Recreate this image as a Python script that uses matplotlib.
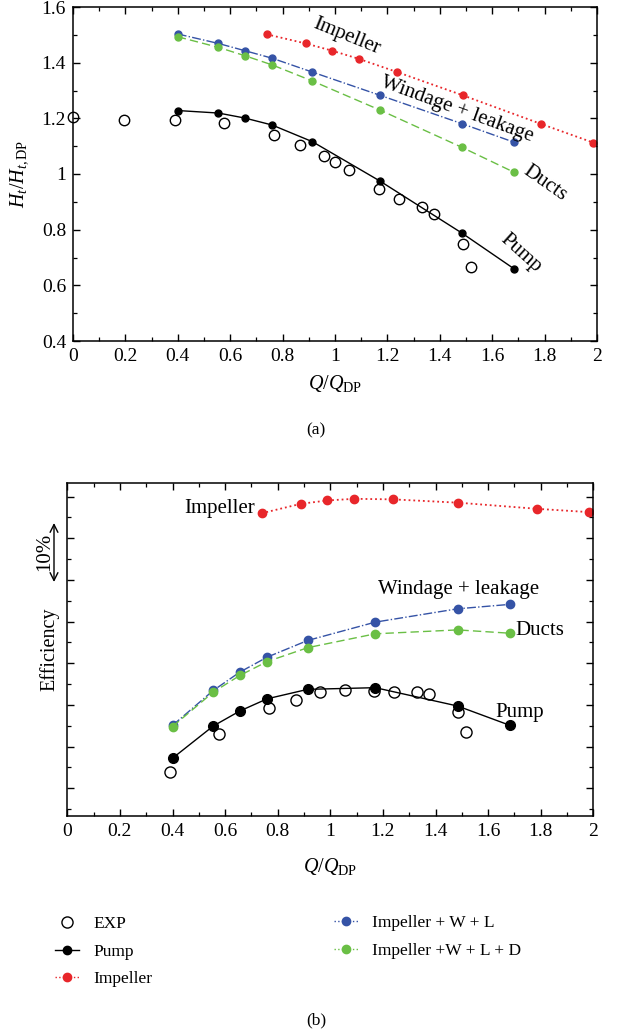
import matplotlib
matplotlib.use('Agg')
import matplotlib.pyplot as plt
from matplotlib.ticker import MultipleLocator, FormatStrFormatter, NullFormatter
from matplotlib.lines import Line2D

plt.rcParams['font.family'] = ['Liberation Serif', 'DejaVu Serif']
plt.rcParams['mathtext.fontset'] = 'custom'
plt.rcParams['mathtext.rm'] = 'Liberation Serif'
plt.rcParams['mathtext.it'] = 'Liberation Serif:italic'
plt.rcParams['mathtext.bf'] = 'Liberation Serif:bold'

# ---------------- data ----------------
q_calc = [0.400, 0.555, 0.656, 0.760, 0.914, 1.171, 1.484, 1.684]
q_imp = [0.739, 0.888, 0.989, 1.090, 1.238, 1.487, 1.786, 1.985]

# (a) head
head_imp = [1.502, 1.469, 1.443, 1.414, 1.366, 1.283, 1.180, 1.113]
head_wl = [1.503, 1.469, 1.443, 1.416, 1.366, 1.283, 1.181, 1.114]
head_ducts = [1.493, 1.455, 1.425, 1.392, 1.334, 1.230, 1.096, 1.006]
head_pump = [1.228, 1.219, 1.201, 1.176, 1.116, 0.975, 0.788, 0.659]
q_exp_a = [0.0, 0.195, 0.389, 0.576, 0.767, 0.866, 0.959, 1.000, 1.055,
           1.168, 1.244, 1.333, 1.379, 1.488, 1.519]
head_exp = [1.204, 1.194, 1.195, 1.184, 1.139, 1.103, 1.063, 1.042, 1.013,
            0.947, 0.909, 0.881, 0.855, 0.748, 0.666]

# (b) efficiency (%)
eff_imp = [94.5, 96.2, 96.8, 97.1, 97.0, 96.4, 95.3, 94.7]
eff_wl = [56.3, 62.6, 65.9, 68.6, 71.6, 74.9, 77.3, 78.1]
eff_ducts = [56.1, 62.3, 65.3, 67.8, 70.3, 72.8, 73.5, 72.9]
eff_pump = [50.4, 56.2, 58.9, 61.1, 62.8, 63.1, 59.8, 56.3]
q_exp_b = [0.389, 0.575, 0.768, 0.868, 0.959, 1.054, 1.166, 1.241, 1.331,
           1.377, 1.484, 1.516]
eff_exp = [47.9, 54.7, 59.4, 60.8, 62.3, 62.6, 62.5, 62.3, 62.3, 62.0,
           58.7, 55.2]

x_ticks = [0, 0.2, 0.4, 0.6, 0.8, 1, 1.2, 1.4, 1.6, 1.8, 2]
y_ticks_a = [0.4, 0.6, 0.8, 1, 1.2, 1.4, 1.6]

RED = '#e8262a'
BLUE = '#3553a6'
GREEN = '#6abf45'

W, H = 631, 1036
fig = plt.figure(figsize=(W / 100, H / 100), dpi=100)

def axes_px(l, t, r, b):
    return fig.add_axes([l / W, 1 - b / H, (r - l) / W, (b - t) / H])

ax1 = axes_px(73, 7, 597, 341)
ax2 = axes_px(67.3, 482.7, 593.3, 816)

FS_TICK = 14
FS_ANN = 15
FS_LAB = 14.5
FS_LEG = 12.5

def style(ax):
    for s in ax.spines.values():
        s.set_linewidth(1.1)
    ax.tick_params(which='both', direction='in', top=True, right=True,
                   labelsize=FS_TICK, pad=5)
    ax.tick_params(which='major', length=5, width=1.0)
    ax.tick_params(which='minor', length=3, width=0.9)
    ax.set_xlim(0, 2)
    ax.set_xticks(x_ticks)
    ax.xaxis.set_minor_locator(MultipleLocator(0.1))
    ax.xaxis.set_major_formatter(FormatStrFormatter('%g'))

# ---------------- (a) ----------------
style(ax1)
ax1.set_ylim(0.4, 1.6)
ax1.set_yticks(y_ticks_a)
ax1.yaxis.set_minor_locator(MultipleLocator(0.1))
ax1.yaxis.set_major_formatter(FormatStrFormatter('%g'))

ax1.plot(q_imp, head_imp, ':', color=RED, lw=1.3, marker='o', ms=5, mec=RED, mfc=RED)
ax1.plot(q_calc, head_wl, '-.', color=BLUE, lw=1.0, marker='o', ms=5, mec=BLUE, mfc=BLUE)
ax1.plot(q_calc, head_ducts, '--', color=GREEN, lw=1.0, dashes=(6, 3), marker='o', ms=5,
         mec=GREEN, mfc=GREEN)
ax1.plot(q_calc, head_pump, '-', color='black', lw=1.0, marker='o', ms=5, mec='black', mfc='black')
ax1.plot(q_exp_a, head_exp, 'o', ms=7.5, mfc='none', mec='black', mew=1.0, clip_on=False)

ax1.text(1.045, 1.493, 'Impeller', rotation=-22, ha='center', va='center', fontsize=FS_ANN)
ax1.text(1.464, 1.232, 'Windage + leakage', rotation=-20, ha='center', va='center', fontsize=FS_ANN)
ax1.text(1.80, 0.967, 'Ducts', rotation=-35, ha='center', va='center', fontsize=FS_ANN)
ax1.text(1.71, 0.715, 'Pump', rotation=-42, ha='center', va='center', fontsize=FS_ANN)

ax1.set_ylabel(r'$H_t/H_{t,\mathrm{DP}}$', fontsize=FS_LAB)
ax1.yaxis.set_label_coords((30 - 73) / 524, 0.5)
ax1.set_xlabel(r'$Q/Q_{\mathrm{DP}}$', fontsize=FS_LAB)
ax1.xaxis.set_label_coords(0.5, (341 - 373) / 334)

fig.text(316 / W, 1 - 430 / H, '(a)', ha='center', va='center', fontsize=FS_LEG)

# ---------------- (b) ----------------
style(ax2)
ax2.set_ylim(40, 100)
ax2.yaxis.set_major_locator(MultipleLocator(7.5))
ax2.yaxis.set_minor_locator(MultipleLocator(3.75))
ax2.yaxis.set_major_formatter(NullFormatter())

ax2.plot(q_imp, eff_imp, ':', color=RED, lw=1.3, marker='o', ms=6, mec=RED, mfc=RED)
ax2.plot(q_calc, eff_wl, '-.', color=BLUE, lw=1.0, marker='o', ms=6, mec=BLUE, mfc=BLUE)
ax2.plot(q_calc, eff_ducts, '--', color=GREEN, lw=1.0, dashes=(6, 3), marker='o', ms=6,
         mec=GREEN, mfc=GREEN)
ax2.plot(q_calc, eff_pump, '-', color='black', lw=1.0, marker='o', ms=7, mec='black', mfc='black')
ax2.plot(q_exp_b, eff_exp, 'o', ms=8, mfc='none', mec='black', mew=1.0)

ax2.text(0.715, 95.4, 'Impeller', ha='right', va='center', fontsize=FS_ANN)
ax2.text(1.487, 80.7, 'Windage + leakage', ha='center', va='center', fontsize=FS_ANN)
ax2.text(1.705, 73.4, 'Ducts', ha='left', va='center', fontsize=FS_ANN)
ax2.text(1.628, 58.7, 'Pump', ha='left', va='center', fontsize=FS_ANN)

ax2.set_ylabel('Efficiency', fontsize=FS_LAB)
ax2.yaxis.set_label_coords((59 - 67.3) / 526, 0.5)
ax2.set_xlabel(r'$Q/Q_{\mathrm{DP}}$', fontsize=FS_LAB)
ax2.xaxis.set_label_coords(0.5, (816 - 856) / 333.3)

# 10% arrow outside left spine
ax2.annotate('', xy=(54 / W, 1 - 523 / H), xytext=(54 / W, 1 - 582 / H),
             xycoords='figure fraction', textcoords='figure fraction',
             arrowprops=dict(arrowstyle='<->', lw=1.0, color='black',
                             mutation_scale=14, shrinkA=0, shrinkB=0))
fig.text(45 / W, 1 - 552 / H, '10%', rotation=90, ha='center', va='center', fontsize=FS_ANN)

# legends
h_exp = Line2D([], [], ls='none', marker='o', ms=8, mfc='none', mec='black', mew=1.0)
h_pump = Line2D([], [], ls='-', color='black', lw=1.0, marker='o', ms=6, mfc='black', mec='black')
h_imp = Line2D([], [], ls=':', color=RED, lw=1.0, marker='o', ms=6, mfc=RED, mec=RED)
h_wl = Line2D([], [], ls=':', color=BLUE, lw=1.0, marker='o', ms=6, mfc=BLUE, mec=BLUE)
h_d = Line2D([], [], ls=':', color=GREEN, lw=1.0, marker='o', ms=6, mfc=GREEN, mec=GREEN)

leg_kw = dict(frameon=False, fontsize=FS_LEG, handlelength=1.4, handletextpad=0.8,
              labelspacing=0.65, borderpad=0, borderaxespad=0, loc='upper left')
fig.legend([h_exp, h_pump, h_imp], ['EXP', 'Pump', 'Impeller'],
           bbox_to_anchor=(55 / W, 1 - 916 / H), **leg_kw)
fig.legend([h_wl, h_d], ['Impeller + W + L', 'Impeller +W + L + D'],
           bbox_to_anchor=(334 / W, 1 - 915 / H), **leg_kw)

fig.text(316 / W, 1 - 1020 / H, '(b)', ha='center', va='center', fontsize=FS_LEG)

fig.savefig('out.png', dpi=100)
